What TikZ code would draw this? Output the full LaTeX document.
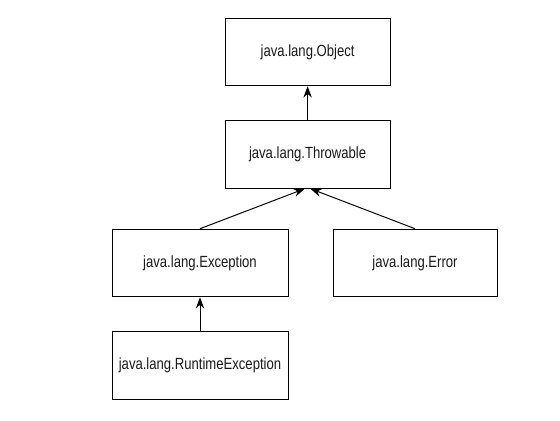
\documentclass[tikz,border=0pt]{standalone}
\usepackage{fontspec}
\setmainfont[FakeStretch=0.81]{Liberation Sans}
\usetikzlibrary{arrows.meta}

\tikzset{
    classbox/.style={draw, line width=0.7pt, minimum height=1.69cm, inner sep=0pt,
        font=\fontsize{11.5}{13}\selectfont, text=black!90},
    inherit/.style={-{Stealth[length=8pt,width=6pt]}, line width=0.7pt}
}

\begin{document}
\begin{tikzpicture}
        \useasboundingbox (0,0) rectangle (14,10.5);

        % Class boxes
        \node[classbox, minimum width=4.125cm] (obj) at (7.69, 9.2) {java.lang.Object};
        \node[classbox, minimum width=4.125cm] (thr) at (7.69, 6.64) {java.lang.Throwable};
        \node[classbox, minimum width=4.4cm] (exc) at (5.0, 3.925) {java.lang.Exception};
        \node[classbox, minimum width=4.1cm] (err) at (10.375, 3.925) {java.lang.Error};
        \node[classbox, minimum width=4.4cm] (rte) at (5.0, 1.3625) {java.lang.RuntimeException};

        % Inheritance arrows
        \draw[inherit] (thr.north) -- (obj.south);
        \draw[inherit] (exc.north) -- ([xshift=-0.07cm]thr.south);
        \draw[inherit] (err.north) -- ([xshift=0.07cm]thr.south);
        \draw[inherit] (rte.north) -- (exc.south);
    \end{tikzpicture}
\end{document}
